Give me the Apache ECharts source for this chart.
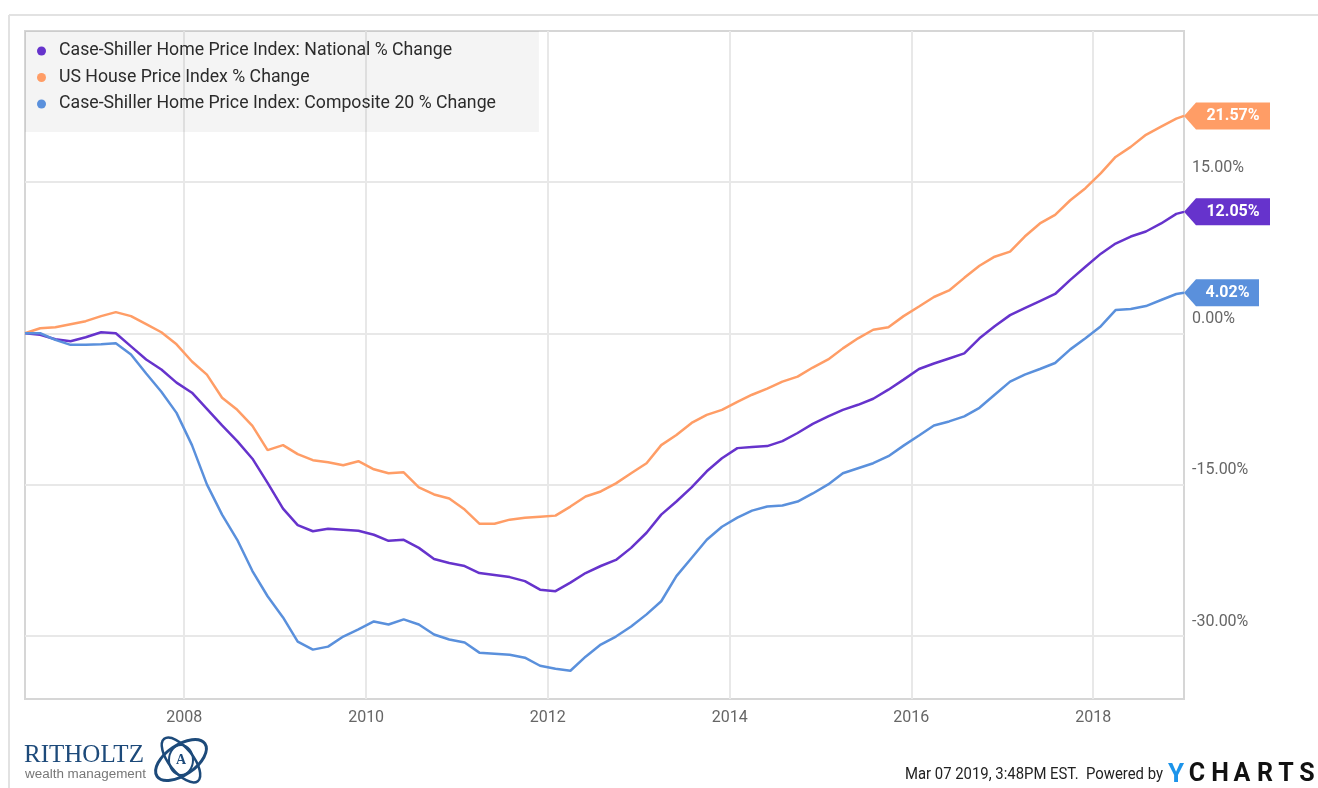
<!DOCTYPE html>
<html>
<head>
<meta charset="utf-8">
<title>Home Price Index % Change</title>
<script src="https://cdn.jsdelivr.net/npm/echarts@6.0.0/dist/echarts.min.js"></script>
<style>
html, body { margin: 0; padding: 0; background: #fff; }
#main { width: 1318px; height: 788px; }
</style>
</head>
<body>
<div id="main"></div>
<script>
// month-end points, every two months (first day of next month)
var dates = [
	'2006-04-01','2006-06-01','2006-08-01','2006-10-01','2006-12-01',
	'2007-02-01','2007-04-01','2007-06-01','2007-08-01','2007-10-01','2007-12-01',
	'2008-02-01','2008-04-01','2008-06-01','2008-08-01','2008-10-01','2008-12-01',
	'2009-02-01','2009-04-01','2009-06-01','2009-08-01','2009-10-01','2009-12-01',
	'2010-02-01','2010-04-01','2010-06-01','2010-08-01','2010-10-01','2010-12-01',
	'2011-02-01','2011-04-01','2011-06-01','2011-08-01','2011-10-01','2011-12-01',
	'2012-02-01','2012-04-01','2012-06-01','2012-08-01','2012-10-01','2012-12-01',
	'2013-02-01','2013-04-01','2013-06-01','2013-08-01','2013-10-01','2013-12-01',
	'2014-02-01','2014-04-01','2014-06-01','2014-08-01','2014-10-01','2014-12-01',
	'2015-02-01','2015-04-01','2015-06-01','2015-08-01','2015-10-01','2015-12-01',
	'2016-02-01','2016-04-01','2016-06-01','2016-08-01','2016-10-01','2016-12-01',
	'2017-02-01','2017-04-01','2017-06-01','2017-08-01','2017-10-01','2017-12-01',
	'2018-02-01','2018-04-01','2018-06-01','2018-08-01','2018-10-01','2018-12-01',
	'2019-01-01'
];

var nationalPct = [
	0, -0.15, -0.6, -0.8, -0.4,
	0.1, 0.0, -1.3, -2.6, -3.6, -4.9,
	-5.9, -7.5, -9.15, -10.7, -12.45, -14.85,
	-17.4, -19.05, -19.65, -19.4, -19.5, -19.6,
	-20.0, -20.6, -20.5, -21.3, -22.4, -22.8,
	-23.1, -23.8, -24.0, -24.2, -24.6, -25.45,
	-25.6, -24.75, -23.8, -23.1, -22.5, -21.3,
	-19.8, -18.0, -16.7, -15.3, -13.7, -12.4,
	-11.4, -11.3, -11.2, -10.7, -9.9, -9.0,
	-8.25, -7.6, -7.1, -6.5, -5.6, -4.6,
	-3.55, -3.0, -2.5, -2.0, -0.5, 0.7,
	1.8, 2.5, 3.2, 3.9, 5.3, 6.6,
	7.9, 8.9, 9.6, 10.1, 10.9, 11.85,
	12.05
];

var usHpiPct = [
	0, 0.5, 0.6, 0.9, 1.2,
	1.7, 2.1, 1.7, 0.9, 0.1, -1.1,
	-2.8, -4.1, -6.4, -7.6, -9.2, -11.6,
	-11.1, -12.0, -12.6, -12.8, -13.1, -12.7,
	-13.5, -13.9, -13.8, -15.3, -16.0, -16.4,
	-17.5, -18.9, -18.9, -18.5, -18.3, -18.2,
	-18.1, -17.2, -16.2, -15.7, -14.9, -13.9,
	-12.9, -11.1, -10.1, -8.9, -8.1, -7.6,
	-6.8, -6.1, -5.5, -4.8, -4.3, -3.4,
	-2.6, -1.5, -0.5, 0.35, 0.6, 1.7,
	2.65, 3.6, 4.25, 5.5, 6.7, 7.6,
	8.1, 9.6, 10.9, 11.75, 13.2, 14.4,
	15.9, 17.5, 18.5, 19.7, 20.5, 21.3,
	21.57
];

var composite20Pct = [
	0, 0.0, -0.65, -1.15, -1.15,
	-1.1, -1.0, -2.1, -4.0, -5.8, -7.9,
	-11.1, -15.0, -18.0, -20.5, -23.6, -26.1,
	-28.2, -30.6, -31.4, -31.1, -30.1, -29.4,
	-28.6, -28.9, -28.4, -28.9, -29.9, -30.4,
	-30.7, -31.7, -31.8, -31.9, -32.2, -33.0,
	-33.3, -33.5, -32.1, -30.9, -30.1, -29.1,
	-27.9, -26.6, -24.1, -22.3, -20.5, -19.2,
	-18.3, -17.6, -17.2, -17.1, -16.7, -15.9,
	-15.0, -13.9, -13.4, -12.9, -12.2, -11.15,
	-10.15, -9.15, -8.75, -8.25, -7.4, -6.1,
	-4.8, -4.1, -3.55, -2.95, -1.6, -0.5,
	0.7, 2.3, 2.4, 2.7, 3.3, 3.9,
	4.02
];

var yearTicks = ['2008-01-01','2010-01-01','2012-01-01','2014-01-01','2016-01-01','2018-01-01'];
var pctTicks = [-30, -15, 0, 15];

var seriesNames = [
	'Case-Shiller Home Price Index: National % Change',
	'US House Price Index % Change',
	'Case-Shiller Home Price Index: Composite 20 % Change'
];
var seriesColors = ['#6633cc', '#ff9d66', '#5a90dc'];
var seriesValues = [nationalPct, usHpiPct, composite20Pct];
var tagWidths = [86, 86, 75];

var FONT = 'Roboto, "Noto Sans", sans-serif';

function toTime(d) {
	return new Date(d + 'T00:00:00').getTime();
}

var times = dates.map(toTime);
var yearTickTimes = yearTicks.map(toTime);

function pairUp(vals) {
	var out = [];
	for (var i = 0; i < times.length; i++) {
		out.push([times[i], vals[i]]);
	}
	return out;
}

function tagPath(w, h) {
	return 'path://M0,' + (h / 2) + 'L12,0L' + w + ',0L' + w + ',' + h + 'L12,' + h + 'Z';
}

var series = [];
for (var s = 0; s < seriesNames.length; s++) {
	var vals = seriesValues[s];
	var last = vals.length - 1;
	var w = tagWidths[s];
	series.push({
		name: seriesNames[s],
		type: 'line',
		data: pairUp(vals),
		showSymbol: false,
		symbol: 'circle',
		lineStyle: { width: 2.5, color: seriesColors[s] },
		itemStyle: { color: seriesColors[s] },
		z: 3,
		markPoint: {
			silent: true,
			symbol: tagPath(w, 27),
			symbolSize: [w, 27],
			symbolOffset: [w / 2, 0],
			itemStyle: { color: seriesColors[s] },
			label: {
				show: true,
				position: 'inside',
				offset: [6, 0],
				color: '#fff',
				fontFamily: FONT,
				fontWeight: 'bold',
				fontSize: 16,
				formatter: function (p) { return p.value.toFixed(2) + '%'; }
			},
			data: [{ coord: [times[last], vals[last]], value: vals[last] }]
		}
	});
}

var graphics = [
	// outer frame
	{ type: 'line', shape: { x1: 9, y1: 15, x2: 1318, y2: 15 }, style: { stroke: '#e2e2e2', lineWidth: 2 } },
	{ type: 'line', shape: { x1: 9, y1: 15, x2: 9, y2: 788 }, style: { stroke: '#e2e2e2', lineWidth: 2 } },
	// ritholtz logo
	{ type: 'text', x: 24, y: 755, style: { text: 'RITHOLTZ', font: '25px "Liberation Serif", serif', fill: '#1d4a7a', verticalAlign: 'middle' } },
	{ type: 'text', x: 25, y: 775, scaleX: 1.12, style: { text: 'wealth management', font: '12px "Liberation Sans", sans-serif', fill: '#777', verticalAlign: 'middle' } },
	{ type: 'ellipse', x: 181, y: 760, rotation: 0.6, shape: { cx: 0, cy: 0, rx: 29, ry: 15 }, style: { fill: 'none', stroke: '#1d4a7a', lineWidth: 3 } },
	{ type: 'ellipse', x: 181, y: 760, rotation: -0.9, shape: { cx: 0, cy: 0, rx: 27, ry: 12 }, style: { fill: 'none', stroke: '#1d4a7a', lineWidth: 2.5 } },
	{ type: 'ellipse', x: 181, y: 760, rotation: 0, shape: { cx: 0, cy: 0, rx: 12, ry: 15 }, style: { fill: 'none', stroke: '#1d4a7a', lineWidth: 2 } },
	{ type: 'text', x: 181, y: 760, style: { text: 'A', font: 'bold 14px "Liberation Serif", serif', fill: '#1d4a7a', align: 'center', verticalAlign: 'middle' } },
	// footer
	{ type: 'text', x: 1163, y: 775, scaleX: 0.93, style: { text: 'Mar 07 2019, 3:48PM EST.  Powered by', font: '16px ' + FONT, fill: '#222', align: 'right', verticalAlign: 'middle' } },
	{ type: 'text', x: 1176, y: 775, style: { text: 'Y', font: 'bold 26px ' + FONT, fill: '#1c94ea', align: 'center', verticalAlign: 'middle' } }
];
var ychartsLetters = ['C', 'H', 'A', 'R', 'T', 'S'];
var ychartsX = [1197, 1220, 1242, 1265, 1286, 1307];
for (var k = 0; k < ychartsLetters.length; k++) {
	graphics.push({ type: 'text', x: ychartsX[k], y: 775, style: { text: ychartsLetters[k], font: 'bold 25px ' + FONT, fill: '#111', align: 'center', verticalAlign: 'middle' } });
}

var option = {
	animation: false,
	backgroundColor: '#fff',
	textStyle: { fontFamily: FONT },
	legend: {
		orient: 'vertical',
		left: 25,
		top: 31,
		selectedMode: false,
		icon: 'circle',
		itemWidth: 9,
		itemHeight: 9,
		itemGap: 6.5,
		padding: [10, 43, 18, 12],
		backgroundColor: 'rgba(0,0,0,0.045)',
		textStyle: { fontSize: 17.7, lineHeight: 20, color: '#2b2b2b', fontFamily: FONT, padding: [0, 0, 0, 8] },
		data: seriesNames
	},
	grid: {
		left: 25,
		right: 134,
		top: 31,
		bottom: 89,
		show: true,
		borderColor: '#d6d6d6',
		borderWidth: 2,
		containLabel: false
	},
	xAxis: {
		type: 'value',
		min: times[0],
		max: times[times.length - 1],
		axisLine: { show: false },
		axisTick: { show: false, customValues: yearTickTimes },
		splitLine: { show: true, lineStyle: { color: '#e8e8e8', width: 2 } },
		axisLabel: {
			customValues: yearTickTimes,
			margin: 11,
			color: '#666',
			fontSize: 16,
			fontFamily: FONT,
			formatter: function (v) { return String(new Date(v).getFullYear()); }
		}
	},
	yAxis: {
		type: 'value',
		position: 'right',
		min: -36.3,
		max: 30,
		axisLine: { show: false },
		axisTick: { show: false, customValues: pctTicks },
		splitLine: { show: true, lineStyle: { color: '#e8e8e8', width: 2 } },
		axisLabel: {
			customValues: pctTicks,
			margin: 8,
			color: '#666',
			fontSize: 16,
			fontFamily: FONT,
			verticalAlign: 'bottom',
			padding: [0, 0, 6, 0],
			formatter: function (v) { return v.toFixed(2) + '%'; }
		}
	},
	series: series,
	graphic: graphics
};

var myChart = echarts.init(document.getElementById('main'), null, { renderer: 'canvas' });
if (option && typeof option === 'object') {
	myChart.setOption(option, true);
}
</script>
</body>
</html>
